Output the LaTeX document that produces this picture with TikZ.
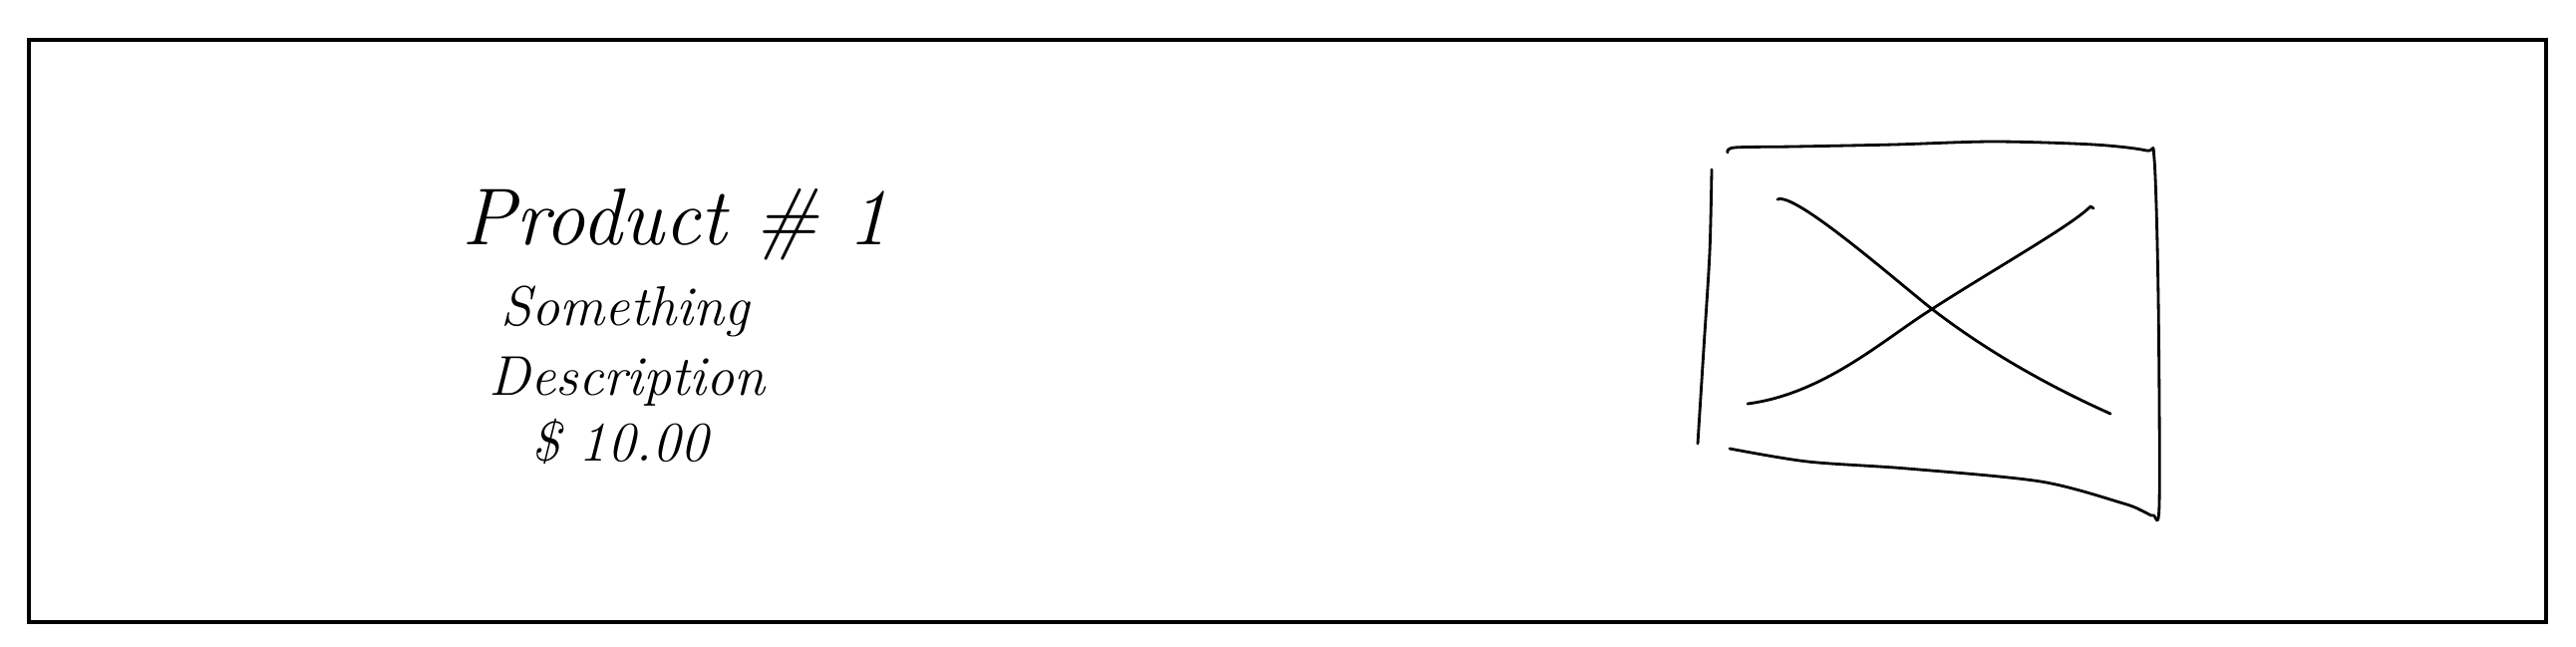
\documentclass[tikz,border=0pt]{standalone}
\begin{document}
\begin{tikzpicture}[x=0.01cm,y=-0.01cm,
    sketch/.style={line width=0.8pt,line cap=round,line join=round},
    scribble/.style={anchor=base west,inner sep=0pt,font=\itshape\fontsize{16}{19}\selectfont}]
  \useasboundingbox (0,0) rectangle (2584,648);
  \draw[line width=1.2pt] (29,40) rectangle (2554,624);
  \node[scribble,font=\itshape\fontsize{23}{26}\selectfont] (title) at (463,245) {Product \# 1};
  \node[scribble] (line1) at (502,326) {Something};
  \node[scribble] (line2) at (490,396) {Description};
  \node[scribble] (price) at (533,462) {\$ 10.00};
  \draw[sketch] plot[smooth] coordinates {(1717,170) (1715,253) (1709,350) (1703,445)};
  \draw[sketch] plot[smooth] coordinates {(1733,153) (1740,148) (1800,147) (1900,145)
      (2000,142) (2100,145) (2153,151) (2161,160) (2165,300) (2166,505) (2160,517)
      (2150,513) (2130,505) (2047,483) (1913,470) (1813,463) (1735,450)};
  \draw[sketch] (1783,200) .. controls (1800,192) and (1900,280) .. (1938,310)
      .. controls (1990,350) and (2050,385) .. (2117,415);
  \draw[sketch] (1753,405) .. controls (1830,395) and (1890,340) .. (1938,310)
      .. controls (2000,270) and (2080,225) .. (2097,207) -- (2100,209);
\end{tikzpicture}
\end{document}
